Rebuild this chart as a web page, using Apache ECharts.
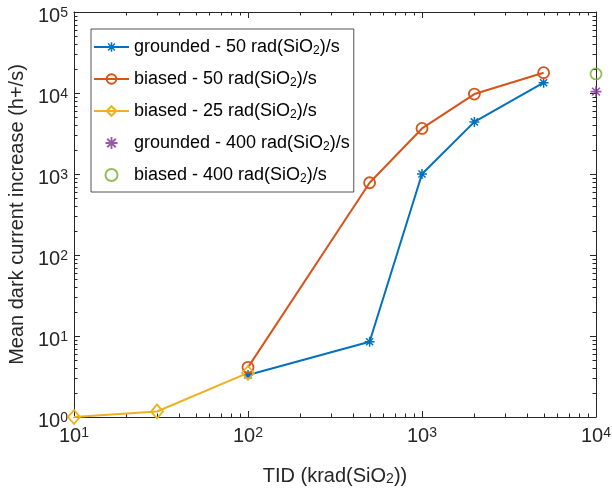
<!DOCTYPE html>
<html>
<head>
<meta charset="utf-8">
<script src="https://cdn.jsdelivr.net/npm/echarts@6/dist/echarts.min.js"></script>
<style>
  html, body { margin: 0; padding: 0; background: #fff; }
  #chart { width: 612px; height: 497px; }
</style>
</head>
<body>
<div id="chart"></div>
<script>
// data
const tid50 = [100, 500, 1000, 2000, 5000];
const grounded50 = [3.3, 8.5, 1000, 4400, 13400];
const biased50 = [4.1, 780, 3650, 9700, 17800];
const tid25 = [10, 30, 100];
const biased25 = [1.0, 1.17, 3.5];
const tid400 = [10000];
const grounded400 = [10400];
const biased400 = [17200];

// decade ticks
const xMajorTicks = [10, 100, 1000, 10000];
const yMajorTicks = [1, 10, 100, 1000, 10000, 100000];

const names = [
  'grounded - 50 rad(SiO2)/s',
  'biased - 50 rad(SiO2)/s',
  'biased - 25 rad(SiO2)/s',
  'grounded - 400 rad(SiO2)/s',
  'biased - 400 rad(SiO2)/s'
];
const colors = ['#0072BD', '#D95319', '#EDB120', '#7E2F8E', '#77AC30'];
const axisColor = '#262626';
const font = 'Liberation Sans, Arial, Helvetica, sans-serif';
const xMin = xMajorTicks[0], xMax = xMajorTicks[xMajorTicks.length - 1];
const yMin = yMajorTicks[0], yMax = yMajorTicks[yMajorTicks.length - 1];

// filled 8-armed asterisk (like MATLAB '*')
const asterisk = 'path://M-1.5,-10L1.5,-10L1.5,10L-1.5,10Z' +
  'M6.01,-8.13L8.13,-6.01L-6.01,8.13L-8.13,6.01Z' +
  'M10,-1.5L10,1.5L-10,1.5L-10,-1.5Z' +
  'M8.13,6.01L6.01,8.13L-8.13,-6.01L-6.01,-8.13Z';

function pairs(xs, ys) {
  return xs.map((x, i) => [x, ys[i]]);
}

function powLabel(v) {
  return '10{sup|' + Math.round(Math.log10(v)) + '}';
}

// 2..9 of every decade between the first and last major tick
function minorValues(majors) {
  const out = [];
  for (let i = 0; i < majors.length - 1; i++) {
    for (let k = 2; k <= 9; k++) out.push(k * majors[i]);
  }
  return out;
}

// tick rows for the custom series: [x, y, isYTick, isMajor]
const tickRows = [].concat(
  xMajorTicks.map(v => [v, yMin, 0, 1]),
  minorValues(xMajorTicks).map(v => [v, yMin, 0, 0]),
  yMajorTicks.map(v => [xMin, v, 1, 1]),
  minorValues(yMajorTicks).map(v => [xMin, v, 1, 0])
);

// inward ticks on all four sides (box on), placed through the axes
function renderTick(params, api) {
  const isY = api.value(2) === 1;
  const len = api.value(3) === 1 ? 6 : 3.5;
  const style = { stroke: axisColor, lineWidth: 1 };
  if (!isY) {
    const v = api.value(0);
    const b = api.coord([v, yMin]);
    const t = api.coord([v, yMax]);
    const x = Math.round(b[0]) + 0.5;
    return {
      type: 'group',
      children: [
        { type: 'line', shape: { x1: x, y1: b[1], x2: x, y2: b[1] - len }, style: style },
        { type: 'line', shape: { x1: x, y1: t[1], x2: x, y2: t[1] + len }, style: style }
      ]
    };
  }
  const v = api.value(1);
  const l = api.coord([xMin, v]);
  const r = api.coord([xMax, v]);
  const y = Math.round(l[1]) + 0.5;
  return {
    type: 'group',
    children: [
      { type: 'line', shape: { x1: l[0], y1: y, x2: l[0] + len, y2: y }, style: style },
      { type: 'line', shape: { x1: r[0], y1: y, x2: r[0] - len, y2: y }, style: style }
    ]
  };
}

const tickLabelRich = {
  sup: { fontSize: 14, lineHeight: 14, fontFamily: font, color: axisColor, verticalAlign: 'top', padding: [0, 0, 9, 0] }
};

function logAxis(min, max, pos, showLabel) {
  return {
    type: 'log',
    min: min,
    max: max,
    position: pos,
    axisLine: { show: true, lineStyle: { color: axisColor, width: 1 } },
    axisTick: { show: false },
    splitLine: { show: false },
    minorSplitLine: { show: false },
    axisLabel: {
      show: showLabel,
      formatter: powLabel,
      fontSize: 20,
      lineHeight: 20,
      fontFamily: font,
      color: axisColor,
      rich: tickLabelRich
    }
  };
}

const xMain = logAxis(xMin, xMax, 'bottom', true);
xMain.name = 'TID (krad(SiO{sub|2}))';
xMain.nameLocation = 'middle';
xMain.nameGap = 49;
xMain.nameTextStyle = {
  fontSize: 20, lineHeight: 20, fontFamily: font, color: axisColor,
  rich: { sub: { fontSize: 14, lineHeight: 14, fontFamily: font, color: axisColor, verticalAlign: 'bottom', padding: [10, 0, 0, 0] } }
};
xMain.axisLabel.margin = 9;

const yMain = logAxis(yMin, yMax, 'left', true);
yMain.name = 'Mean dark current increase (h+/s)';
yMain.nameLocation = 'middle';
yMain.nameGap = 42;
yMain.nameTextStyle = { fontSize: 20, fontFamily: font, color: axisColor };
yMain.axisLabel.margin = 6;
yMain.axisLabel.padding = [8, 0, 0, 0];

const option = {
  animation: false,
  backgroundColor: '#fff',
  grid: { left: 74, right: 16, top: 12, bottom: 80, outerBoundsMode: 'none' },
  xAxis: [xMain, logAxis(xMin, xMax, 'top', false)],
  yAxis: [yMain, logAxis(yMin, yMax, 'right', false)],
  legend: {
    orient: 'vertical',
    left: 91,
    top: 29,
    padding: [6, 4, 7, 2],
    itemGap: 10,
    itemWidth: 35,
    itemHeight: 12,
    backgroundColor: '#fff',
    borderColor: axisColor,
    borderWidth: 0.8,
    borderRadius: 0,
    data: names,
    formatter: function (n) { return n.replace('SiO2', 'SiO{sub|2}'); },
    textStyle: {
      fontSize: 18, lineHeight: 20, fontFamily: font, color: '#000',
      rich: { sub: { fontSize: 12, lineHeight: 12, fontFamily: font, color: '#000', verticalAlign: 'bottom', padding: [10, 0, 0, 0] } }
    }
  },
  series: [
    {
      type: 'custom', name: 'ticks', data: tickRows,
      encode: { x: 0, y: 1 }, renderItem: renderTick,
      silent: true, clip: false, z: 1
    },
    {
      name: names[0], type: 'line', data: pairs(tid50, grounded50),
      symbol: asterisk, symbolSize: 10, symbolKeepAspect: true,
      lineStyle: { color: colors[0], width: 2 },
      itemStyle: { color: colors[0], borderWidth: 0 }
    },
    {
      name: names[1], type: 'line', data: pairs(tid50, biased50),
      symbol: 'circle', symbolSize: 11,
      lineStyle: { color: colors[1], width: 2 },
      itemStyle: { color: 'transparent', borderColor: colors[1], borderWidth: 1.8 }
    },
    {
      name: names[2], type: 'line', data: pairs(tid25, biased25),
      symbol: 'diamond', symbolSize: [12, 14],
      lineStyle: { color: colors[2], width: 2 },
      itemStyle: { color: 'transparent', borderColor: colors[2], borderWidth: 1.8 }
    },
    {
      name: names[3], type: 'scatter', data: pairs(tid400, grounded400),
      symbol: asterisk, symbolSize: 11, symbolKeepAspect: true,
      itemStyle: { color: colors[3], borderWidth: 0 }
    },
    {
      name: names[4], type: 'scatter', data: pairs(tid400, biased400),
      symbol: 'circle', symbolSize: 11,
      itemStyle: { color: 'transparent', borderColor: colors[4], borderWidth: 1.8 }
    }
  ]
};

const myChart = echarts.init(document.getElementById('chart'));
myChart.setOption(option);
</script>
</body>
</html>
